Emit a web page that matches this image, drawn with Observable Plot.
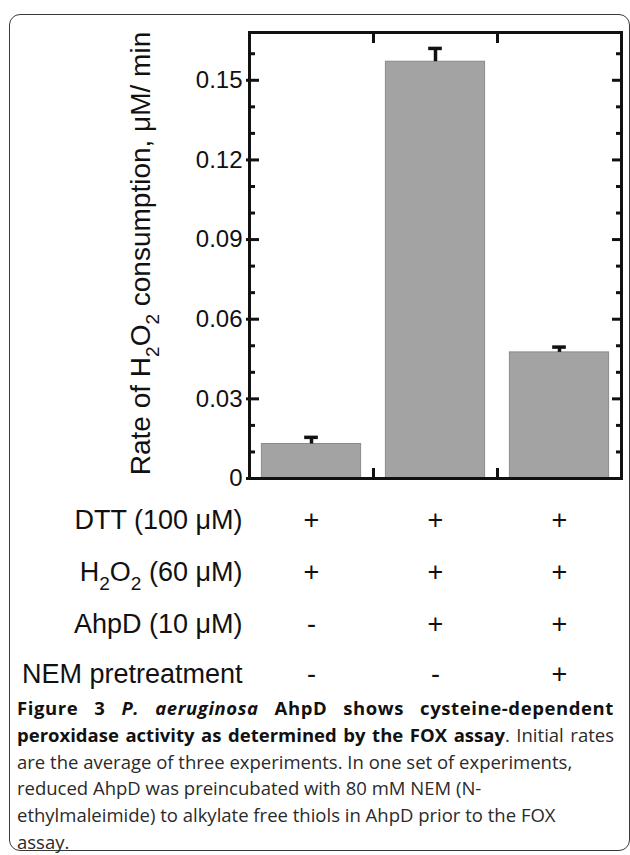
<!DOCTYPE html>
<html>
<head>
<meta charset="utf-8">
<script src="https://cdn.jsdelivr.net/npm/d3@7"></script>
<script src="https://cdn.jsdelivr.net/npm/@observablehq/plot@0.6"></script>
<style>
  body { margin: 0; background: #fff; }
  #wrap { position: relative; width: 630px; height: 855px; overflow: hidden; background: #fff; }
  #box { position: absolute; left: 9px; top: 14px; width: 621px; height: 837px; border: 1.5px solid #3a3a3a; border-radius: 11px; box-sizing: border-box; }
  #chart { position: absolute; left: 0; top: 0; }
  #caption { position: absolute; left: 17px; top: 695px; width: 597px; font-family: "Open Sans", sans-serif; font-size: 18.5px; line-height: 26.8px; color: #2a2a2a; }
  #caption div { white-space: nowrap; }
  #caption b { color: #111; }
  #caption .l1 b { letter-spacing: 0.6px; }
  #caption .j { text-align: justify; text-align-last: justify; }
</style>
</head>
<body>
<div id="wrap">
  <div id="box"></div>
  <div id="chart"></div>
  <div id="caption">
    <div class="j l1"><b>Figure 3 <i>P. aeruginosa</i> AhpD shows cysteine-dependent</b></div>
    <div class="j"><b>peroxidase activity as determined by the FOX assay</b>. Initial rates</div>
    <div>are the average of three experiments. In one set of experiments,</div>
    <div>reduced AhpD was preincubated with 80 mM NEM (N-</div>
    <div>ethylmaleimide) to alkylate free thiols in AhpD prior to the FOX</div>
    <div>assay.</div>
  </div>
</div>
<script>
// ---- data ----
const groups = [1, 2, 3];
const rates = [0.013, 0.157, 0.0475];
const errors = [0.0025, 0.005, 0.002];
const conditions = ["DTT (100 μM)", "H2O2 (60 μM)", "AhpD (10 μM)", "NEM pretreatment"];
const signs = [
  ["+", "+", "+"],
  ["+", "+", "+"],
  ["-", "+", "+"],
  ["-", "-", "+"]
];
const yTicks = [0, 0.03, 0.06, 0.09, 0.12, 0.15];
const yMinorTicks = [0.01, 0.02, 0.04, 0.05, 0.07, 0.08, 0.10, 0.11, 0.13, 0.14, 0.16];
const xTicks = [1.5, 2.5];
const yLabel = "Rate of H2O2 consumption, μM/ min";

// ---- build ----
const bars = groups.map((g, i) => ({g, rate: rates[i], err: errors[i]}));
const rowDy = [42, 94, 146, 196];
const rowFont = 27;

const tableMarks = [];
conditions.forEach((c, r) => {
  tableMarks.push(Plot.text([c], {frameAnchor: "bottom-left", dx: -7, dy: rowDy[r], textAnchor: "end", lineAnchor: "middle", fontSize: rowFont, fill: "#111"}));
  tableMarks.push(Plot.text(groups, {x: g => g, text: (g, i) => signs[r][i], frameAnchor: "bottom", dy: rowDy[r], textAnchor: "middle", lineAnchor: "middle", fontSize: rowFont, fill: "#111"}));
});

const chart = Plot.plot({
  width: 630,
  height: 700,
  marginLeft: 249,
  marginRight: 9,
  marginTop: 32,
  marginBottom: 222,
  style: {fontFamily: "'Liberation Sans', Arial, sans-serif", fontSize: "24px", background: "transparent", overflow: "visible", color: "#111"},
  x: {type: "linear", domain: [0.5, 3.5]},
  y: {domain: [0, 0.168]},
  marks: [
    Plot.rect(bars, {x1: d => d.g - 0.4, x2: d => d.g + 0.4, y1: d => 0, y2: "rate", fill: "#a3a3a3", stroke: "#8a8a8a", strokeWidth: 1}),
    Plot.ruleX(bars, {x: "g", y1: "rate", y2: d => d.rate + d.err, stroke: "#111", strokeWidth: 3.5}),
    Plot.ruleY(bars, {y: d => d.rate + d.err, x1: d => d.g - 0.055, x2: d => d.g + 0.055, stroke: "#111", strokeWidth: 3.5}),
    // left axis: labels, major ticks (crossing), minor ticks (inward)
    Plot.axisY(yTicks, {anchor: "left", tickSize: 0, tickPadding: 7, fontSize: 24, tickFormat: d => d === 0 ? "0" : d.toFixed(2), label: null, fill: "#111"}),
    Plot.axisY(yTicks, {anchor: "left", tickSize: 13, dx: 10, fill: "none", stroke: "#111", strokeWidth: 3, label: null}),
    Plot.axisY(yMinorTicks, {anchor: "left", tickSize: 6, dx: 6, fill: "none", stroke: "#111", strokeWidth: 3, label: null}),
    // right axis ticks (inward)
    Plot.axisY(yTicks, {anchor: "right", tickSize: 10, dx: -10, fill: "none", stroke: "#111", strokeWidth: 3, label: null}),
    Plot.axisY(yMinorTicks, {anchor: "right", tickSize: 6, dx: -6, fill: "none", stroke: "#111", strokeWidth: 3, label: null}),
    // top and bottom ticks (inward)
    Plot.axisX(xTicks, {anchor: "top", tickSize: 10, dy: 10, fill: "none", stroke: "#111", strokeWidth: 3, label: null}),
    Plot.axisX(xTicks, {anchor: "bottom", tickSize: 10, dy: -10, fill: "none", stroke: "#111", strokeWidth: 3, label: null}),
    Plot.frame({stroke: "#111", strokeWidth: 3}),
    // y axis title
    Plot.text([yLabel], {frameAnchor: "left", rotate: -90, dx: -108, dy: -2, textAnchor: "middle", lineAnchor: "middle", fontSize: 28, fill: "#111"}),
    ...tableMarks
  ]
});

// subscripts for H2O2
d3.select(chart).selectAll("text").each(function() {
  const t = this.textContent;
  if (!t.includes("H2O2")) return;
  const fs = parseFloat(this.getAttribute("font-size")) || 27;
  const shift = Math.round(fs * 0.33);
  const sub = Math.round(fs * 0.72);
  const rest = t.split("H2O2");
  const sel = d3.select(this);
  sel.text(null);
  if (rest[0]) sel.append("tspan").text(rest[0]);
  sel.append("tspan").text("H");
  sel.append("tspan").attr("dy", shift).attr("font-size", sub).text("2");
  sel.append("tspan").attr("dy", -shift).text("O");
  sel.append("tspan").attr("dy", shift).attr("font-size", sub).text("2");
  sel.append("tspan").attr("dy", -shift).text(rest[1]);
});

document.getElementById("chart").appendChild(chart);
</script>
</body>
</html>
